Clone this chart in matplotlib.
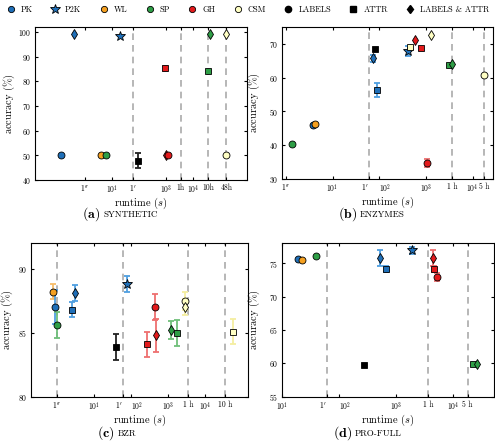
import matplotlib
matplotlib.use("Agg")
import matplotlib.pyplot as plt
from matplotlib.lines import Line2D

plt.rcParams['font.family'] = 'serif'
plt.rcParams['font.serif'] = ['cmr10']
plt.rcParams['mathtext.fontset'] = 'cm'
plt.rcParams['axes.unicode_minus'] = False
plt.rcParams['axes.formatter.use_mathtext'] = True

colors = {'PK': '#1f6fb8', 'P2K': '#1f6fb8', 'WL': '#f5a020', 'SP': '#2e9e46',
          'GH': '#e31a1c', 'CSM': '#ffffc4', 'BASE': '#000000'}
err_colors = {'PK': '#4f9fe0', 'P2K': '#4f9fe0', 'WL': '#f7bd6a', 'SP': '#6fbf7a',
              'GH': '#ee6f6f', 'CSM': '#f4eea0', 'BASE': '#222222'}
shapes = {'labels': 'o', 'attr': 's', 'both': 'd'}

# (a) synthetic
syn_method = ['PK', 'PK', 'P2K', 'WL', 'SP', 'BASE', 'GH', 'GH', 'GH', 'SP', 'SP', 'CSM', 'CSM']
syn_feat = ['labels', 'both', 'both', 'labels', 'labels', 'attr', 'attr', 'both', 'labels', 'attr', 'both', 'both', 'labels']
syn_time = [0.13, 0.39, 20, 3.9, 6, 91, 920, 1000, 1200, 36000, 43000, 167000, 167000]
syn_acc = [50, 99, 98.5, 50, 50, 47.8, 85.2, 50, 50, 84, 99, 99, 50]
syn_err = [0, 0, 0, 0, 0, 3, 1, 0, 0, 0, 0, 0, 0]

# (b) enzymes
enz_method = ['SP', 'PK', 'WL', 'PK', 'BASE', 'PK', 'P2K', 'CSM', 'GH', 'GH', 'CSM', 'GH', 'SP', 'SP', 'CSM']
enz_feat = ['labels', 'labels', 'labels', 'both', 'attr', 'attr', 'both', 'attr', 'both', 'attr', 'both', 'labels', 'attr', 'both', 'labels']
enz_time = [1.38, 3.9, 4.3, 72, 80, 88, 415, 460, 590, 790, 1270, 1050, 3200, 3600, 17800]
enz_acc = [40.4, 46, 46.3, 65.8, 68.5, 56.4, 68, 69, 71.2, 68.8, 72.8, 34.8, 63.8, 64.2, 60.8]
enz_err = [0, 0, 0, 1, 0, 2, 1.5, 0, 0, 0, 0, 1.2, 0, 0, 0]

# (c) bzr
bzr_method = ['WL', 'PK', 'SP', 'PK', 'PK', 'BASE', 'P2K', 'GH', 'GH', 'GH', 'SP', 'SP', 'CSM', 'CSM', 'CSM']
bzr_feat = ['labels', 'labels', 'labels', 'attr', 'both', 'attr', 'both', 'attr', 'labels', 'both', 'both', 'attr', 'labels', 'both', 'attr']
bzr_time = [0.78, 0.88, 1.0, 2.5, 3.1, 39, 78, 270, 450, 470, 1240, 1800, 2900, 2900, 57000]
bzr_acc = [88.2, 87.0, 85.6, 86.8, 88.1, 83.9, 88.8, 84.1, 87.0, 84.8, 85.2, 85.0, 87.5, 87.0, 85.1]
bzr_err = [0.6, 1.3, 1.0, 0.6, 0.6, 1.0, 0.6, 1.0, 1.0, 1.3, 0.7, 1.0, 0.7, 0.6, 1.0]

# (d) pro-full
pro_method = ['PK', 'WL', 'SP', 'BASE', 'PK', 'PK', 'P2K', 'GH', 'GH', 'GH', 'SP', 'SP']
pro_feat = ['labels', 'labels', 'labels', 'attr', 'both', 'attr', 'both', 'both', 'attr', 'labels', 'attr', 'both']
pro_time = [18.7, 22, 40, 270, 530, 660, 1870, 4500, 4600, 5300, 22000, 26000]
pro_acc = [75.6, 75.5, 76.1, 59.8, 75.7, 74.1, 76.9, 75.7, 74.1, 72.9, 59.9, 59.9]
pro_err = [0, 0, 0, 0, 1.2, 0.5, 0.5, 1.2, 0.5, 0.6, 0, 0]


def draw(ax, method, feat, time, acc, err, xlim, ylim, yticks, xticks, xlabels, vlines):
    for v in vlines:
        ax.axvline(v, color='#aaaaaa', lw=1.2, ls=(0, (4, 3)), zorder=1)
    for m, f, t, a, e in zip(method, feat, time, acc, err):
        mk = '*' if m == 'P2K' else shapes[f]
        ms = 7 if m == 'P2K' else (5 if f != 'both' else 5.5)
        if e > 0:
            ax.errorbar(t, a, yerr=e, fmt='none', ecolor=err_colors[m],
                        elinewidth=1.3, capsize=2.5, capthick=1.3, zorder=2)
        ax.plot(t, a, marker=mk, ms=ms, color=colors[m], mec='black', mew=0.6,
                ls='none', zorder=3)
    ax.set_xscale('log')
    ax.set_xlim(xlim)
    ax.set_ylim(ylim)
    ax.set_yticks(yticks)
    ax.set_xticks(xticks)
    ax.set_xticklabels(xlabels)
    ax.minorticks_off()
    ax.tick_params(direction='in', top=True, right=True, labelsize=5.5, length=2.5, pad=2.5)
    # keep the adjacent 1' / 10^2 labels apart
    ticklabels = ax.get_xticklabels()
    for i, lab in enumerate(xlabels):
        if lab == r"$1'$" and i + 1 < len(xlabels) and xlabels[i + 1] == r'$10^{2}$':
            ticklabels[i].set_horizontalalignment('right')
            ticklabels[i + 1].set_horizontalalignment('left')
    ax.set_xlabel(r'runtime $(s)$', fontsize=7.5)
    ax.set_ylabel(r'accuracy $(\%)$', fontsize=7.5)


fig = plt.figure(figsize=(4.95, 4.45), dpi=100)
ax_a = fig.add_axes([0.0707, 0.5955, 0.428, 0.344])
ax_b = fig.add_axes([0.570, 0.598, 0.426, 0.341])
ax_c = fig.add_axes([0.0626, 0.108, 0.438, 0.346])
ax_d = fig.add_axes([0.570, 0.108, 0.428, 0.346])

draw(ax_a, syn_method, syn_feat, syn_time, syn_acc, syn_err, (0.014, 1e6), (40, 102),
     [40, 50, 60, 70, 80, 90, 100],
     [1, 10, 60, 1000, 3600, 1e4, 36000, 172800],
     [r"$1''$", r'$10^{1}$', r"$1'$", r'$10^{3}$', '1h', r'$10^{4}$', '10h', '48h'],
     [60, 3600, 36000, 172800])
draw(ax_b, enz_method, enz_feat, enz_time, enz_acc, enz_err, (0.83, 2.75e4), (30, 75),
     [30, 40, 50, 60, 70],
     [1, 10, 60, 100, 1000, 3600, 1e4, 18000],
     [r"$1''$", r'$10^{1}$', r"$1'$", r'$10^{2}$', r'$10^{3}$', '1 h', r'$10^{4}$', '5 h'],
     [60, 3600, 18000])
draw(ax_c, bzr_method, bzr_feat, bzr_time, bzr_acc, bzr_err, (0.2, 1.45e5), (80, 92),
     [80, 85, 90],
     [1, 10, 60, 100, 1000, 3600, 1e4, 36000],
     [r"$1''$", r'$10^{1}$', r"$1'$", r'$10^{2}$', r'$10^{3}$', '1 h', r'$10^{4}$', '10 h'],
     [1, 60, 3600, 36000])
draw(ax_d, pro_method, pro_feat, pro_time, pro_acc, pro_err, (10, 5.2e4), (55, 78),
     [55, 60, 65, 70, 75],
     [10, 60, 100, 1000, 3600, 1e4, 18000],
     [r'$10^{1}$', r"$1'$", r'$10^{2}$', r'$10^{3}$', '1 h', r'$10^{4}$', '5 h'],
     [60, 3600, 18000])

# label positions (axes fractions)
ax_a.xaxis.set_label_coords(0.5, -0.1)
ax_b.xaxis.set_label_coords(0.5, -0.105)
ax_c.xaxis.set_label_coords(0.5, -0.102)
ax_d.xaxis.set_label_coords(0.5, -0.102)
ax_a.yaxis.set_label_coords(-0.085, 0.5)
ax_b.yaxis.set_label_coords(-0.095, 0.5)
ax_c.yaxis.set_label_coords(-0.074, 0.5)
ax_d.yaxis.set_label_coords(-0.094, 0.5)

# captions (figure pixel positions)
W, H = 495.0, 445.0
for tag, name, xt, yt in [('(a)', 'SYNTHETIC', 100, 214), ('(b)', 'ENZYMES', 357, 214),
                          ('(c)', 'BZR', 115, 433), ('(d)', 'PRO-FULL', 352, 433)]:
    fig.text(xt / W, 1 - yt / H, r'$\mathbf{' + tag + '}$', ha='right', va='center', fontsize=10)
    fig.text((xt + 3) / W, 1 - (yt + 0.5) / H, name, ha='left', va='center', fontsize=6.5)

# legend
handles = []
labels = []
for m in ['PK', 'P2K', 'WL', 'SP', 'GH', 'CSM']:
    handles.append(Line2D([], [], marker='*' if m == 'P2K' else 'o', ls='none',
                          color=colors[m], mec='black', mew=0.6, ms=7 if m == 'P2K' else 4.5))
    labels.append(m)
for f, name in [('labels', 'LABELS'), ('attr', 'ATTR'), ('both', 'LABELS & ATTR')]:
    handles.append(Line2D([], [], marker=shapes[f], ls='none', color='black', ms=4.5))
    labels.append(name)
fig.legend(handles, labels, loc='upper left', bbox_to_anchor=(0.0, 1.0, 1.0, 0.0),
           ncol=9, mode='expand', frameon=False, fontsize=6, handletextpad=0.6,
           handlelength=1.2, borderaxespad=0.3)

fig.savefig('out.png', dpi=100)
